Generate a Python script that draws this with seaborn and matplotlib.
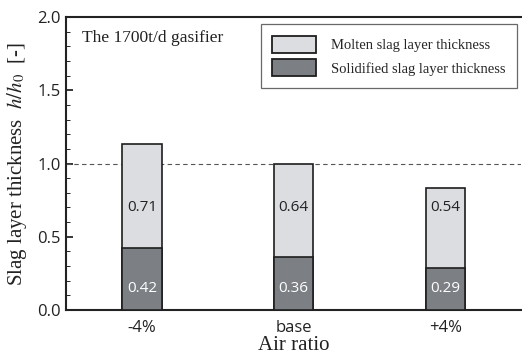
import matplotlib
matplotlib.use("Agg")
import matplotlib.pyplot as plt
import seaborn as sns
import pandas as pd
from matplotlib.patches import Patch
from matplotlib.ticker import MultipleLocator

categories = ["-4%", "base", "+4%"]
solidified = [0.42, 0.36, 0.29]
molten = [0.71, 0.64, 0.54]

totals = [s + m for s, m in zip(solidified, molten)]
df = pd.DataFrame({"cat": categories, "solid": solidified, "molten": molten, "total": totals})

sns.set_style("ticks")
plt.rcParams["mathtext.fontset"] = "stix"
serif = ["Liberation Serif", "DejaVu Serif"]
sans = ["Open Sans", "DejaVu Sans"]

light = "#dcdde0"
dark = "#7c7f84"
edge = "#1e1e1e"

fig = plt.figure(figsize=(5.22, 3.62), dpi=100)
ax = fig.add_axes([0.1264, 0.1436, 0.8726, 0.8094])

sns.barplot(data=df, x="cat", y="total", color=light, width=0.26, saturation=1,
            edgecolor=edge, linewidth=1.2, ax=ax, zorder=3)
sns.barplot(data=df, x="cat", y="solid", color=dark, width=0.26, saturation=1,
            edgecolor=edge, linewidth=1.2, ax=ax, zorder=4)

ax.axhline(1.0, color="#555555", linestyle=(0, (4, 3)), linewidth=0.8, zorder=2)

for i, (s, m) in enumerate(zip(solidified, molten)):
    ax.text(i, 0.70, f"{m:.2f}", ha="center", va="center", fontsize=11,
            family=sans, color="#222222", zorder=5)
    ax.text(i, 0.15, f"{s:.2f}", ha="center", va="center", fontsize=11,
            family=sans, color="white", zorder=5)

ax.set_xlim(-0.5, 2.5)
ax.set_ylim(0, 2.0)
ax.yaxis.set_major_locator(MultipleLocator(0.5))
ax.yaxis.set_minor_locator(MultipleLocator(0.1))
ax.yaxis.set_major_formatter(matplotlib.ticker.FormatStrFormatter("%.1f"))
ax.tick_params(axis="y", which="major", direction="in", length=5, width=1.3, labelsize=12)
ax.tick_params(axis="y", which="minor", direction="in", length=3, width=0.7)
ax.tick_params(axis="x", length=0, labelsize=12, pad=7)
for lab in ax.get_xticklabels() + ax.get_yticklabels():
    lab.set_family(sans)
    lab.set_color("#222222")

for sp in ["left", "top", "bottom"]:
    ax.spines[sp].set_linewidth(1.5)
    ax.spines[sp].set_color("#222222")
ax.spines["right"].set_visible(False)

ax.set_xlabel("Air ratio", family=serif, fontsize=15, color="#222222", labelpad=0)
ax.set_ylabel(r"Slag layer thickness  $h/h_0$  [-]", family=serif, fontsize=15,
              color="#222222", labelpad=6)

ax.text(0.035, 0.93, "The 1700t/d gasifier", transform=ax.transAxes, family=serif,
        fontsize=12.5, color="#222222", va="center", ha="left")

handles = [Patch(facecolor=light, edgecolor=edge, linewidth=1.3, label="Molten slag layer thickness"),
           Patch(facecolor=dark, edgecolor=edge, linewidth=1.3, label="Solidified slag layer thickness")]
leg = ax.legend(handles=handles, loc="upper right", bbox_to_anchor=(0.99, 0.975),
                prop={"family": serif, "size": 10.5}, frameon=True, fancybox=False,
                edgecolor="#444444", handlelength=3.0, handleheight=1.4,
                borderpad=0.8, labelspacing=0.45, handletextpad=1.0, borderaxespad=0)
leg.get_frame().set_linewidth(0.9)

fig.savefig("out.png", dpi=100)
